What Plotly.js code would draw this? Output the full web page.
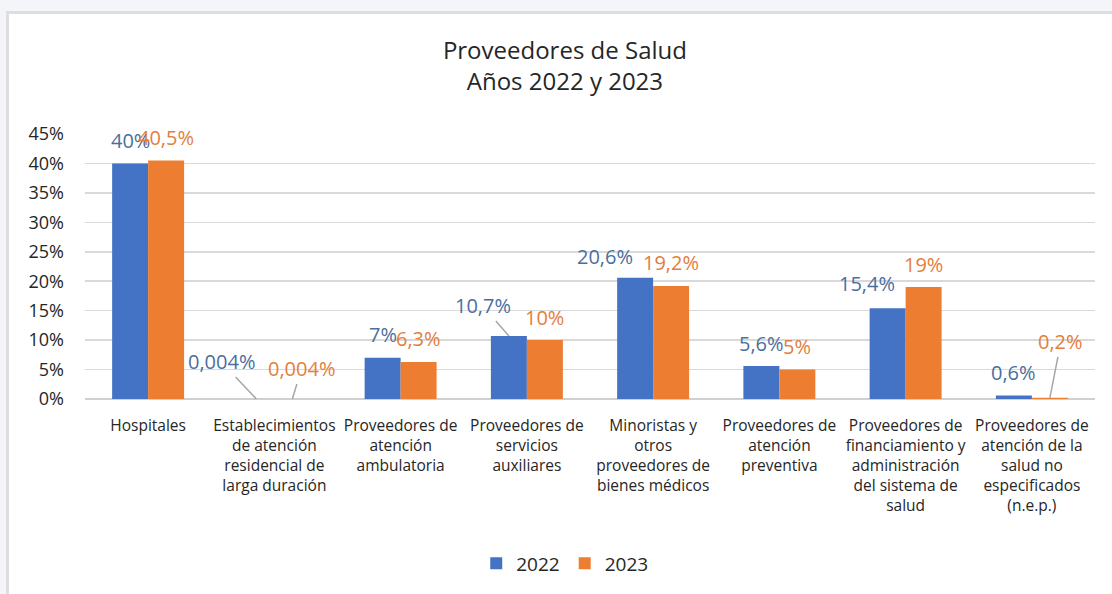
<!DOCTYPE html>
<html>
<head>
<meta charset="utf-8">
<script src="https://cdn.plot.ly/plotly-3.0.1.min.js"></script>
<style>
  html, body { margin: 0; padding: 0; background: #f4f5f9; width: 1112px; height: 594px; overflow: hidden; }
  #card { position: absolute; left: 6px; top: 11px; width: 1106px; height: 583px;
          border-left: 3px solid #dedede; border-top: 3px solid #dedede; background: #ffffff; }
  #chart { width: 1103px; height: 580px; }
</style>
</head>
<body>
<div id="card"><div id="chart"></div></div>
<script>
// ---- Data ----
const categories = [
  "Hospitales",
  "Establecimientos de atención residencial de larga duración",
  "Proveedores de atención ambulatoria",
  "Proveedores de servicios auxiliares",
  "Minoristas y otros proveedores de bienes médicos",
  "Proveedores de atención preventiva",
  "Proveedores de financiamiento y administración del sistema de salud",
  "Proveedores de atención de la salud no especificados (n.e.p.)"
];
const tickLabels = [
  "Hospitales",
  "Establecimientos<br>de atención<br>residencial de<br>larga duración",
  "Proveedores de<br>atención<br>ambulatoria",
  "Proveedores de<br>servicios<br>auxiliares",
  "Minoristas y<br>otros<br>proveedores de<br>bienes médicos",
  "Proveedores de<br>atención<br>preventiva",
  "Proveedores de<br>financiamiento y<br>administración<br>del sistema de<br>salud",
  "Proveedores de<br>atención de la<br>salud no<br>especificados<br>(n.e.p.)"
];
const values2022 = [40, 0.004, 7, 10.7, 20.6, 5.6, 15.4, 0.6];
const values2023 = [40.5, 0.004, 6.3, 10, 19.2, 5, 19, 0.2];
const seriesNames = ["2022", "2023"];
const yTicks = [0, 5, 10, 15, 20, 25, 30, 35, 40, 45];

// ---- Style / placement config ----
const barColors = ["#4472C4", "#ED7D31"];
const labelColors = ["#4A6F9E", "#E37E3C"];
const bargap = 0.43;
const barOffset = (1 - bargap) / 4; // center offset of each bar within its group (category units)
const defaultLabelRise = 23;
// Excel-style manual label moves (pixels), keyed by series index then category index
const labelAdjust = [
  {1: {ax: -35, ay: -37}, 3: {ax: -26, ay: -30}, 4: {dx: -30, dy: 21}, 6: {dx: -21, dy: 25}},
  {1: {ax: 9, ay: -30}, 7: {ax: 11, ay: -56}}
];

function fmt(v) { return String(v).replace('.', ',') + '%'; }

const allValues = [values2022, values2023];
const traces = allValues.map((vals, s) => ({
  type: 'bar',
  name: seriesNames[s],
  x: categories,
  y: vals,
  marker: {color: barColors[s]},
  hoverinfo: 'skip'
}));

const annotations = [];
allValues.forEach((vals, s) => {
  vals.forEach((v, i) => {
    const adj = labelAdjust[s][i] || {};
    const base = {
      xref: 'x', yref: 'y',
      x: i + (s === 0 ? -barOffset : barOffset),
      y: v,
      text: fmt(v),
      font: {family: 'Open Sans', size: 20, color: labelColors[s]}
    };
    if (adj.ax !== undefined) {
      annotations.push(Object.assign(base, {
        showarrow: true, arrowhead: 0, arrowwidth: 1.5, arrowcolor: '#a6a6a6',
        ax: adj.ax, ay: adj.ay, standoff: 0
      }));
    } else {
      annotations.push(Object.assign(base, {
        showarrow: false, xanchor: 'center', yanchor: 'middle',
        xshift: adj.dx || 0, yshift: adj.dy !== undefined ? adj.dy : defaultLabelRise
      }));
    }
  });
});

const layout = {
  width: 1103, height: 580,
  margin: {l: 76, r: 17, t: 120, b: 191},
  paper_bgcolor: '#ffffff', plot_bgcolor: '#ffffff',
  barmode: 'group', bargap: bargap, bargroupgap: 0,
  title: {
    text: 'Proveedores de Salud<br>Años 2022 y 2023',
    font: {family: 'Open Sans', size: 24, color: '#262626'},
    x: 0.504, xanchor: 'center', y: 0.922, yanchor: 'top'
  },
  xaxis: {
    type: 'category',
    tickvals: categories, ticktext: tickLabels,
    tickfont: {family: 'Open Sans', size: 15.5, color: '#262626'},
    showgrid: false, zeroline: false, showline: false, ticks: '',
    ticklabelstandoff: 15, automargin: false
  },
  yaxis: {
    range: [0, 45], tickvals: yTicks, ticktext: yTicks.map(t => t + '%'),
    tickfont: {family: 'Open Sans', size: 18, color: '#262626'},
    showgrid: true, gridcolor: '#d9d9d9', gridwidth: 1.5,
    zeroline: true, zerolinecolor: '#d0d0d0', zerolinewidth: 1.5,
    showline: false, ticks: '', ticklabelstandoff: 20, automargin: false
  },
  showlegend: true,
  legend: {
    orientation: 'h', x: 0.475, xanchor: 'center', y: -0.62, yanchor: 'middle',
    font: {family: 'Open Sans', size: 19, color: '#262626'},
    itemwidth: 30, traceorder: 'normal'
  },
  annotations: annotations
};

Plotly.newPlot('chart', traces, layout, {displayModeBar: false, staticPlot: true});
</script>
</body>
</html>
